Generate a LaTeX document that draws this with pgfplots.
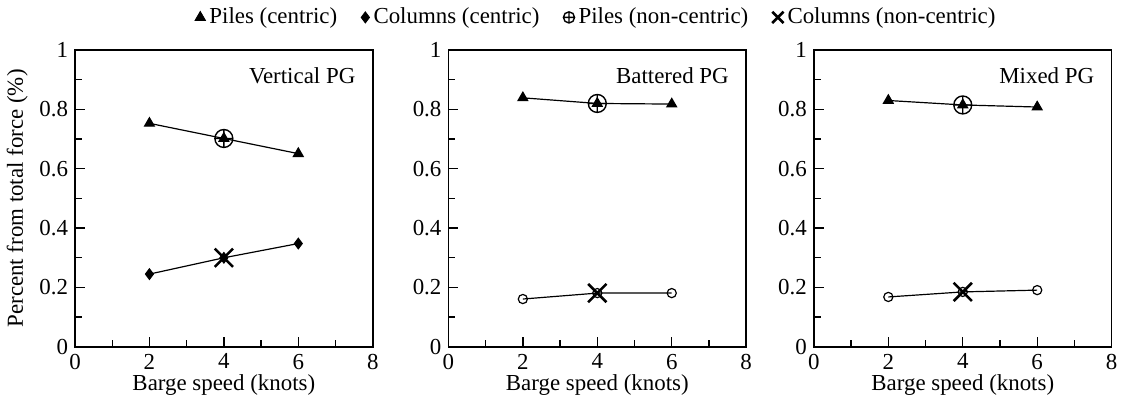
\documentclass[border=0pt]{standalone}
\usepackage{pgfplots}
\pgfplotsset{compat=1.18}
\usepackage{fontspec}
\setmainfont{Liberation Serif}

\pgfplotsset{
  panel/.style={
    width=149.5pt, height=149pt, scale only axis,
    xmin=0, xmax=8, ymin=0, ymax=1,
    xtick={0,2,4,6,8}, minor xtick={1,3,5,7},
    ytick={0,0.2,0.4,0.6,0.8,1}, minor ytick={0.1,0.3,0.5,0.7,0.9},
    xticklabels={0,2,4,6,8},
    yticklabels={0,0.2,0.4,0.6,0.8,1},
    xtick pos=lower, ytick pos=left, tick align=inside,
    major tick length=5pt, minor tick length=3.5pt,
    tick style={line width=0.7pt, black},
    axis line style={line width=0.8pt},
    ticklabel style={font=\fontsize{11.5}{13}\selectfont},
    label style={font=\fontsize{11.5}{13}\selectfont},
    xlabel={Barge speed (knots)},
    xlabel style={yshift=4pt},
  },
  cen/.style={black, line width=0.6pt, mark options={solid}},
}

\begin{document}
\begin{tikzpicture}
% Vertical PG
\begin{axis}[panel, at={(0pt,0pt)},
  ylabel={Percent from total force (\%)}, ylabel style={yshift=-1pt}]
\addplot[cen, mark=triangle*, mark size=2.8pt] coordinates {(2,0.753) (4,0.702) (6,0.651)};
\addplot[cen, mark=diamond*, mark size=2.6pt] coordinates {(2,0.245) (4,0.300) (6,0.348)};
\addplot[only marks, mark=oplus, mark size=4.5pt, line width=0.7pt] coordinates {(4,0.702)};
\addplot[only marks, mark=x, mark size=6.5pt, line width=1.3pt] coordinates {(4,0.300)};
\node[anchor=east, font=\fontsize{11.5}{13}\selectfont] at (rel axis cs:0.965,0.915) {Vertical PG};
\end{axis}
% Battered PG
\begin{axis}[panel, at={(187.5pt,0pt)},
  legend columns=4,
  legend style={at={(0.5,1.05)}, anchor=south, draw=none, fill=none,
    font=\fontsize{11.5}{13}\selectfont,
    /tikz/every even column/.append style={column sep=10pt}},
  legend cell align=left]
\addlegendimage{only marks, mark=triangle*, mark size=3pt}
\addlegendentry{Piles (centric)}
\addlegendimage{only marks, mark=diamond*, mark size=2.8pt}
\addlegendentry{Columns (centric)}
\addlegendimage{only marks, mark=oplus, mark size=2.8pt, line width=0.7pt}
\addlegendentry{Piles (non-centric)}
\addlegendimage{only marks, mark=x, mark size=4pt, line width=1.3pt}
\addlegendentry{Columns (non-centric)}
\addplot[cen, mark=triangle*, mark size=2.8pt, forget plot] coordinates {(2,0.839) (4,0.820) (6,0.818)};
\addplot[cen, mark=o, mark size=2.3pt, forget plot] coordinates {(2,0.161) (4,0.181) (6,0.181)};
\addplot[only marks, mark=oplus, mark size=4.5pt, line width=0.7pt, forget plot] coordinates {(4,0.820)};
\addplot[only marks, mark=x, mark size=6.5pt, line width=1.3pt, forget plot] coordinates {(4,0.181)};
\node[anchor=east, font=\fontsize{11.5}{13}\selectfont] at (rel axis cs:0.965,0.915) {Battered PG};
\end{axis}
% Mixed PG
\begin{axis}[panel, at={(371pt,0pt)}]
\addplot[cen, mark=triangle*, mark size=2.8pt] coordinates {(2,0.830) (4,0.815) (6,0.808)};
\addplot[cen, mark=o, mark size=2.3pt] coordinates {(2,0.168) (4,0.185) (6,0.191)};
\addplot[only marks, mark=oplus, mark size=4.5pt, line width=0.7pt] coordinates {(4,0.815)};
\addplot[only marks, mark=x, mark size=6.5pt, line width=1.3pt] coordinates {(4,0.185)};
\node[anchor=east, font=\fontsize{11.5}{13}\selectfont] at (rel axis cs:0.965,0.915) {Mixed PG};
\end{axis}
\end{tikzpicture}
\end{document}
